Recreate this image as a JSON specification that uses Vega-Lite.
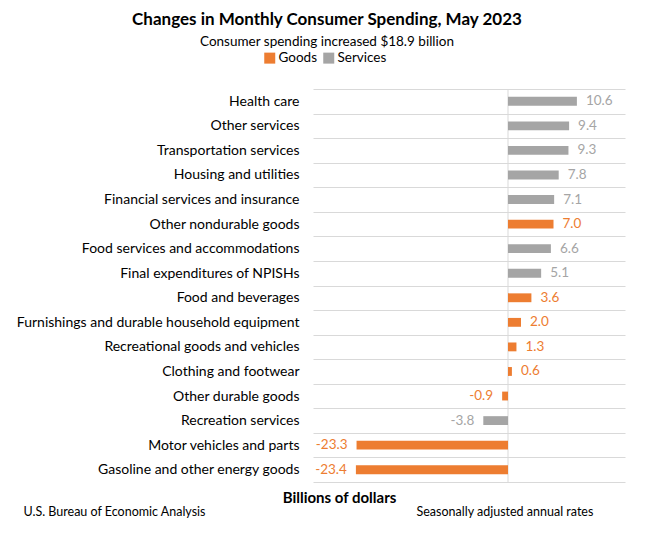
{
  "$schema": "https://vega.github.io/schema/vega-lite/v6.json",
  "width": 312,
  "height": 393,
  "autosize": {"type": "none"},
  "padding": {"left": 313, "top": 89, "right": 29, "bottom": 66},
  "background": "white",
  "config": {
    "view": {"stroke": null},
    "font": "Lato",
    "locale": {"number": {"decimal": ".", "thousands": ",", "grouping": [3], "currency": ["$", ""], "minus": "-"}}
  },
  "title": {
    "text": "Changes in Monthly Consumer Spending, May 2023",
    "subtitle": "Consumer spending increased $18.9 billion",
    "anchor": "middle",
    "frame": "group",
    "dx": -142,
    "fontSize": 17,
    "fontWeight": "bold",
    "color": "#000000",
    "subtitleFontSize": 13.5,
    "subtitleColor": "#000000",
    "subtitlePadding": 6,
    "offset": 2
  },
  "data": {
    "values": [
      {"category": "Health care", "value": 10.6, "type": "Services"},
      {"category": "Other services", "value": 9.4, "type": "Services"},
      {"category": "Transportation services", "value": 9.3, "type": "Services"},
      {"category": "Housing and utilities", "value": 7.8, "type": "Services"},
      {"category": "Financial services and insurance", "value": 7.1, "type": "Services"},
      {"category": "Other nondurable goods", "value": 7.0, "type": "Goods"},
      {"category": "Food services and accommodations", "value": 6.6, "type": "Services"},
      {"category": "Final expenditures of NPISHs", "value": 5.1, "type": "Services"},
      {"category": "Food and beverages", "value": 3.6, "type": "Goods"},
      {"category": "Furnishings and durable household equipment", "value": 2.0, "type": "Goods"},
      {"category": "Recreational goods and vehicles", "value": 1.3, "type": "Goods"},
      {"category": "Clothing and footwear", "value": 0.6, "type": "Goods"},
      {"category": "Other durable goods", "value": -0.9, "type": "Goods"},
      {"category": "Recreation services", "value": -3.8, "type": "Services"},
      {"category": "Motor vehicles and parts", "value": -23.3, "type": "Goods"},
      {"category": "Gasoline and other energy goods", "value": -23.4, "type": "Goods"}
    ]
  },
  "resolve": {"axis": {"x": "independent"}},
  "layer": [
    {
      "data": {"values": [{"v": 0}]},
      "mark": {"type": "rule", "color": "#d9d9d9", "strokeWidth": 1},
      "encoding": {
        "x": {"field": "v", "type": "quantitative", "axis": null, "scale": {"domain": [-30, 18], "nice": false, "zero": false}}
      }
    },
    {
      "mark": {"type": "bar", "height": {"band": 0.36}},
      "encoding": {
        "y": {
          "field": "category", "type": "nominal", "sort": null,
          "scale": {"paddingInner": 0, "paddingOuter": 0},
          "axis": {
            "title": "U.S. Bureau of Economic Analysis",
            "titleAngle": 0, "titleX": -290, "titleY": 426,
            "titleAlign": "left", "titleBaseline": "alphabetic",
            "titleFontWeight": "normal", "titleFontSize": 12.5, "titleColor": "#000000",
            "labelFontSize": 14, "labelColor": "#000000", "labelPadding": 14, "labelLimit": 400,
            "ticks": false, "domain": false, "grid": true, "gridColor": "#d9d9d9", "tickBand": "extent"
          }
        },
        "x": {
          "field": "value", "type": "quantitative",
          "scale": {"domain": [-30, 18], "nice": false, "zero": false},
          "axis": {
            "orient": "bottom", "labels": false, "ticks": false, "domain": false, "grid": false,
            "title": "Billions of dollars", "titleX": 26, "titleY": 20,
            "titleAlign": "center", "titleBaseline": "alphabetic",
            "titleFontSize": 15, "titleFontWeight": "bold", "titleColor": "#000000"
          }
        },
        "color": {
          "field": "type", "type": "nominal",
          "scale": {"domain": ["Goods", "Services"], "range": ["#ED7D31", "#A5A5A5"]},
          "legend": {
            "orient": "none", "legendX": -50, "legendY": -38, "direction": "horizontal",
            "title": null, "symbolType": "square", "symbolSize": 121, "symbolStrokeWidth": 0,
            "labelFontSize": 13.5, "labelColor": "#000000", "columnPadding": 5, "labelOffset": 2, "padding": 0
          }
        }
      }
    },
    {
      "transform": [{"filter": "datum.value >= 0"}],
      "mark": {"type": "text", "align": "left", "baseline": "middle", "dx": 9, "fontSize": 13.5},
      "encoding": {
        "y": {
          "field": "category", "type": "nominal", "sort": null,
          "axis": {
            "title": "U.S. Bureau of Economic Analysis",
            "titleAngle": 0, "titleX": -290, "titleY": 426,
            "titleAlign": "left", "titleBaseline": "alphabetic",
            "titleFontWeight": "normal", "titleFontSize": 12.5, "titleColor": "#000000",
            "labelFontSize": 14, "labelColor": "#000000", "labelPadding": 14, "labelLimit": 400,
            "ticks": false, "domain": false, "grid": true, "gridColor": "#d9d9d9", "tickBand": "extent"
          }
        },
        "x": {
          "field": "value", "type": "quantitative",
          "axis": {
            "orient": "top", "labels": false, "ticks": false, "domain": false, "grid": false,
            "title": "Seasonally adjusted annual rates", "titleX": 103, "titleY": 426,
            "titleAlign": "left", "titleBaseline": "alphabetic",
            "titleFontSize": 12.5, "titleFontWeight": "normal", "titleColor": "#000000"
          }
        },
        "text": {"field": "value", "type": "quantitative", "format": ".1f"},
        "color": {"field": "type", "type": "nominal", "scale": {"domain": ["Goods", "Services"], "range": ["#ED7D31", "#A5A5A5"]}, "legend": null}
      }
    },
    {
      "transform": [{"filter": "datum.value < 0"}],
      "mark": {"type": "text", "align": "right", "baseline": "middle", "dx": -9, "fontSize": 13.5},
      "encoding": {
        "y": {
          "field": "category", "type": "nominal", "sort": null,
          "axis": {
            "title": "U.S. Bureau of Economic Analysis",
            "titleAngle": 0, "titleX": -290, "titleY": 426,
            "titleAlign": "left", "titleBaseline": "alphabetic",
            "titleFontWeight": "normal", "titleFontSize": 12.5, "titleColor": "#000000",
            "labelFontSize": 14, "labelColor": "#000000", "labelPadding": 14, "labelLimit": 400,
            "ticks": false, "domain": false, "grid": true, "gridColor": "#d9d9d9", "tickBand": "extent"
          }
        },
        "x": {"field": "value", "type": "quantitative", "axis": null},
        "text": {"field": "value", "type": "quantitative", "format": ".1f"},
        "color": {"field": "type", "type": "nominal", "scale": {"domain": ["Goods", "Services"], "range": ["#ED7D31", "#A5A5A5"]}, "legend": null}
      }
    }
  ]
}
